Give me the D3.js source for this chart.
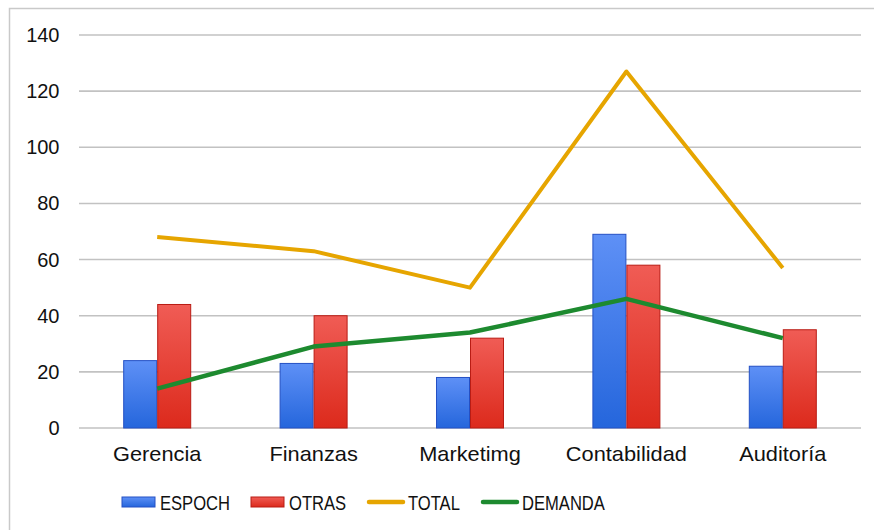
<!DOCTYPE html>
<html>
<head>
<meta charset="utf-8">
<script src="https://cdn.jsdelivr.net/npm/d3@7"></script>
<style>
  body { margin: 0; background: #fff; }
  text { font-family: "Liberation Sans", Arial, sans-serif; fill: #111; }
</style>
</head>
<body>
<svg id="chart" width="874" height="530"></svg>
<script>
// data
var categories = ["Gerencia", "Finanzas", "Marketimg", "Contabilidad", "Auditoría"];
var espoch = [24, 23, 18, 69, 22];
var otras = [44, 40, 32, 58, 35];
var total = [68, 63, 50, 127, 57];
var demanda = [14, 29, 34, 46, 32];
var yTicks = [0, 20, 40, 60, 80, 100, 120, 140];

var svg = d3.select("#chart");

// frame around the chart
svg.append("path")
    .attr("d", "M9.5,530 L9.5,8.5 L874,8.5")
    .attr("fill", "none")
    .attr("stroke", "#c9c9c9")
    .attr("stroke-width", 1.5);

var plotL = 79, plotR = 861, plotT = 35, plotB = 428;

var y = d3.scaleLinear().domain([0, 140]).range([plotB, plotT]);
var x0 = d3.scaleBand().domain(categories).range([plotL, plotR]);
var x1 = d3.scaleBand().domain(["ESPOCH", "OTRAS"]).range([0, x0.bandwidth()]).paddingOuter(1.3);

// gradients for the bars
var defs = svg.append("defs");
function grad(id, c1, c2) {
    var g = defs.append("linearGradient").attr("id", id)
        .attr("x1", 0).attr("y1", 0).attr("x2", 0).attr("y2", 1);
    g.append("stop").attr("offset", "0%").attr("stop-color", c1);
    g.append("stop").attr("offset", "100%").attr("stop-color", c2);
}
grad("gBlue", "#5e90f6", "#2566dc");
grad("gRed", "#f05c55", "#dc2a1c");

// grid lines + y labels
svg.append("g").selectAll("line").data(yTicks).enter().append("line")
    .attr("x1", plotL).attr("x2", plotR)
    .attr("y1", function(d) { return y(d); })
    .attr("y2", function(d) { return y(d); })
    .attr("stroke", "#c2c2c2")
    .attr("stroke-width", 1.6);

svg.append("g").selectAll("text").data(yTicks).enter().append("text")
    .attr("x", 59.5)
    .attr("y", function(d) { return y(d) + 7; })
    .attr("text-anchor", "end")
    .attr("font-size", 20)
    .text(function(d) { return d; });

// bars
var series = [
    { key: "ESPOCH", vals: espoch, fill: "url(#gBlue)", stroke: "#2450c4" },
    { key: "OTRAS", vals: otras, fill: "url(#gRed)", stroke: "#b91c14" }
];
series.forEach(function(s) {
    svg.append("g").selectAll("rect").data(s.vals).enter().append("rect")
        .attr("x", function(d, i) { return x0(categories[i]) + x1(s.key) + 0.5; })
        .attr("width", x1.bandwidth() - 1)
        .attr("y", function(d) { return y(d); })
        .attr("height", function(d) { return y(0) - y(d); })
        .attr("fill", s.fill)
        .attr("stroke", s.stroke)
        .attr("stroke-width", 1);
});

// lines
var cx = function(d, i) { return x0(categories[i]) + x0.bandwidth() / 2; };
var line = d3.line().x(cx).y(function(d) { return y(d); });

svg.append("path").datum(total)
    .attr("d", line)
    .attr("fill", "none")
    .attr("stroke", "#e6a500")
    .attr("stroke-width", 4)
    .attr("stroke-linejoin", "round");

svg.append("path").datum(demanda)
    .attr("d", line)
    .attr("fill", "none")
    .attr("stroke", "#1d8a2f")
    .attr("stroke-width", 4.5)
    .attr("stroke-linejoin", "round");

// category labels (a bit wider than plain Arial in the original)
svg.append("g").selectAll("text").data(categories).enter().append("text")
    .attr("transform", function(d) {
        return "translate(" + (x0(d) + x0.bandwidth() / 2) + ",461) scale(1.09,1)";
    })
    .attr("text-anchor", "middle")
    .attr("font-size", 20)
    .text(function(d) { return d; });

// legend
var legend = [
    { name: "ESPOCH", type: "rect", fill: "url(#gBlue)", stroke: "#2450c4", x: 122 },
    { name: "OTRAS", type: "rect", fill: "url(#gRed)", stroke: "#b91c14", x: 251 },
    { name: "TOTAL", type: "line", stroke: "#e6a500", x: 368 },
    { name: "DEMANDA", type: "line", stroke: "#1d8a2f", x: 482 }
];
var lg = svg.append("g").selectAll("g").data(legend).enter().append("g")
    .attr("transform", function(d) { return "translate(" + d.x + ",502)"; });

lg.filter(function(d) { return d.type == "rect"; }).append("rect")
    .attr("x", 0).attr("y", -5).attr("width", 33).attr("height", 10)
    .attr("fill", function(d) { return d.fill; })
    .attr("stroke", function(d) { return d.stroke; });

lg.filter(function(d) { return d.type == "line"; }).append("line")
    .attr("x1", 1).attr("x2", 35).attr("y1", 0).attr("y2", 0)
    .attr("stroke", function(d) { return d.stroke; })
    .attr("stroke-width", 4.5)
    .attr("stroke-linecap", "round");

// legend text looks condensed, squeeze it a little
lg.append("text")
    .attr("transform", function(d) {
        return "translate(" + (d.type == "rect" ? 38 : 40) + ",8) scale(0.79,1)";
    })
    .attr("font-size", 21)
    .text(function(d) { return d.name; });
</script>
</body>
</html>
